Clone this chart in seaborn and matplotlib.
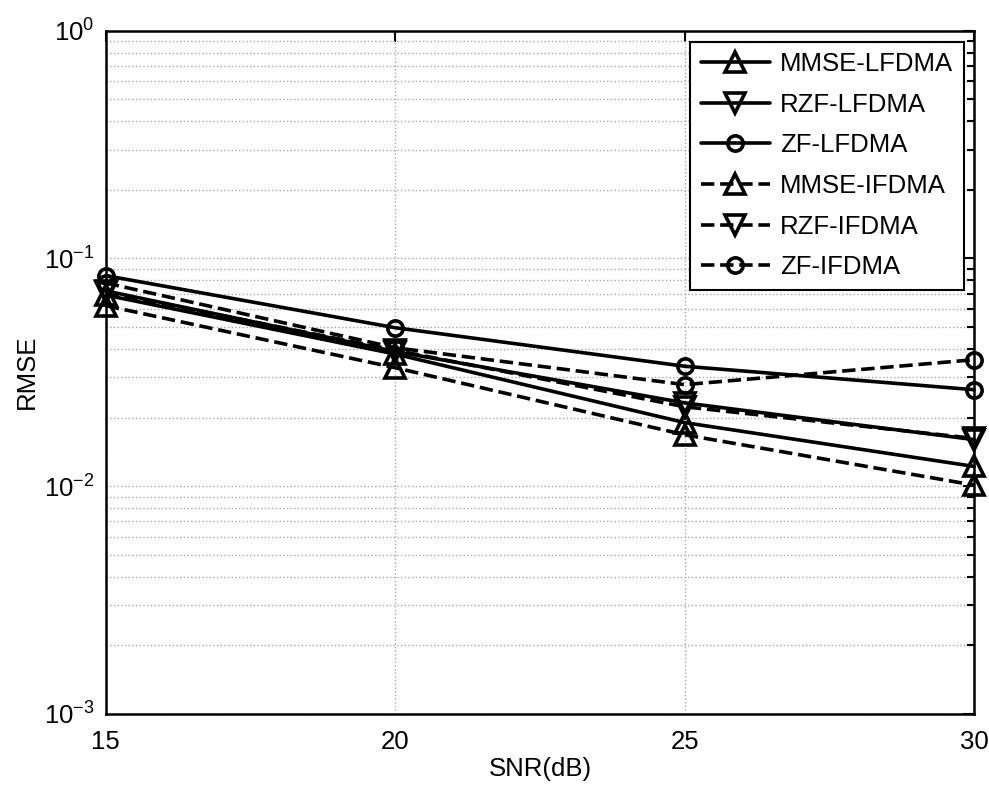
import numpy as np
import pandas as pd
import matplotlib
matplotlib.use("Agg")
import matplotlib.pyplot as plt
import seaborn as sns
from matplotlib.ticker import LogLocator, FixedLocator

# values
snr = [15, 20, 25, 30]
mmse_lfdma = [0.069, 0.038, 0.0190, 0.0122]
rzf_lfdma = [0.072, 0.039, 0.0232, 0.0160]
zf_lfdma = [0.084, 0.0496, 0.0336, 0.0265]
mmse_ifdma = [0.062, 0.0331, 0.0168, 0.0101]
rzf_ifdma = [0.071, 0.0395, 0.0223, 0.0162]
zf_ifdma = [0.078, 0.0405, 0.0279, 0.0359]

series = [
    ("MMSE-LFDMA", mmse_lfdma, "^", "-"),
    ("RZF-LFDMA", rzf_lfdma, "v", "-"),
    ("ZF-LFDMA", zf_lfdma, "o", "-"),
    ("MMSE-IFDMA", mmse_ifdma, "^", "--"),
    ("RZF-IFDMA", rzf_ifdma, "v", "--"),
    ("ZF-IFDMA", zf_ifdma, "o", "--"),
]

sns.set_style("white")
plt.rcParams['font.family'] = ['Liberation Sans', 'DejaVu Sans']
plt.rcParams['mathtext.default'] = 'regular'
plt.rcParams['font.size'] = 18.5
plt.rcParams['text.color'] = 'black'
plt.rcParams['axes.labelcolor'] = 'black'

fig = plt.figure(figsize=(9.89, 7.87), dpi=100)
ax = fig.add_axes([0.107, 0.093, 0.878, 0.868])

for name, vals, mk, ls in series:
    df = pd.DataFrame({"SNR": snr, "RMSE": vals})
    ms = 11 if mk == "o" else 15
    sns.lineplot(data=df, x="SNR", y="RMSE", ax=ax, color="black", lw=2.6,
                 linestyle=ls, marker=mk, markersize=ms, markeredgewidth=2.6,
                 markerfacecolor="none", markeredgecolor="black", label=name,
                 clip_on=False, zorder=3)

ax.set_yscale("log")
ax.set_xlim(15, 30)
ax.set_ylim(1e-3, 1)
ax.xaxis.set_major_locator(FixedLocator([15, 20, 25, 30]))
ax.yaxis.set_major_locator(LogLocator(base=10, numticks=10))
ax.yaxis.set_minor_locator(LogLocator(base=10, subs=np.arange(2, 10), numticks=10))

ax.grid(True, which="major", color="#a8a8a8", ls=":", lw=1.0)
ax.grid(True, which="minor", axis="y", color="#a8a8a8", ls=":", lw=1.0)
ax.tick_params(which="both", direction="in", top=True, right=True,
               labelsize=18.5, width=1.5, colors="black")
ax.tick_params(which="major", length=8)
ax.tick_params(which="minor", length=5)
ax.tick_params(axis="x", which="major", pad=12)
ax.tick_params(axis="y", which="major", pad=8)
for sp in ax.spines.values():
    sp.set_color("black")
    sp.set_linewidth(1.8)

ax.set_xlabel("SNR(dB)", fontsize=18.5, labelpad=2)
ax.set_ylabel("RMSE", fontsize=18.5, labelpad=4)

leg = ax.legend(loc="upper right", bbox_to_anchor=(0.988, 0.984), fontsize=18.5,
                handlelength=2.7, labelspacing=0.65, borderpad=0.4,
                borderaxespad=0, handletextpad=0.4, fancybox=False,
                framealpha=1, edgecolor="black")
leg.get_frame().set_linewidth(1.5)
for t in leg.get_texts():
    t.set_color("black")

plt.savefig("out.png", dpi=100)
